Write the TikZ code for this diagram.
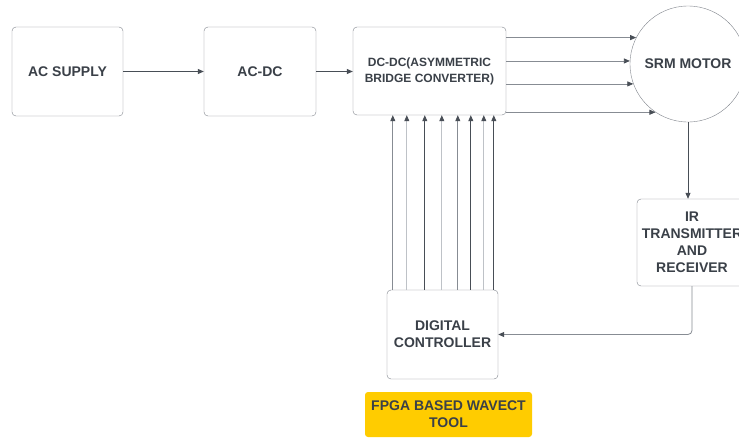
\documentclass[tikz,border=0pt]{standalone}
\usepackage{fontspec}
\setmainfont{Liberation Sans}
\usetikzlibrary{arrows.meta,positioning,calc}
\definecolor{boxgray}{RGB}{128,133,140}
\definecolor{textgray}{RGB}{58,64,72}
\definecolor{wiredark}{RGB}{72,78,86}
\definecolor{wiremid}{RGB}{135,140,147}
\definecolor{wirelight}{RGB}{190,194,199}
\definecolor{toolyellow}{RGB}{255,204,0}

\begin{document}
\begin{tikzpicture}[x=1pt,y=-1pt,
  block/.style={draw=boxgray,rounded corners=4pt,fill=white,align=center,
    inner sep=0pt,text=textgray,font=\bfseries\fontsize{14}{17}\selectfont},
  sig/.style={-{Triangle[length=6pt,width=5pt,color=wiredark]},draw=wiredark,
    line width=0.8pt}]
  \useasboundingbox (0,0) rectangle (739,437);
  \clip (0,0) rectangle (739,437);
  \fill[white] (0,0) rectangle (739,437);

  % top row
  \node[block,minimum width=111,minimum height=89] (supply) at (67.5,71.5) {AC SUPPLY};
  \node[block,minimum width=112,minimum height=89] (acdc) at (260,71.5) {AC-DC};
  \node[block,minimum width=153,minimum height=88,
    font=\bfseries\fontsize{12}{16}\selectfont] (dcdc) at (429.5,71)
    {DC-DC(ASYMMETRIC\\BRIDGE CONVERTER)};
  \node[block,circle,minimum size=116] (motor) at (688,64) {SRM MOTOR};

  % feedback path
  \node[block,minimum width=110,minimum height=87] (ir) at (692,242.5)
    {IR\\TRANSMITTER\\AND\\RECEIVER};
  \node[block,minimum width=111,minimum height=89] (ctrl) at (442.5,334.5)
    {DIGITAL\\CONTROLLER};
  \node[block,draw=none,fill=toolyellow,rounded corners=3pt,minimum width=167,
    minimum height=45] (fpga) at (448.5,414.5) {FPGA BASED WAVECT\\TOOL};

  \draw[sig] (supply) -- (acdc);
  \draw[sig] (acdc.east) -- (acdc.east -| dcdc.west);
  \foreach \a in {153,177,200,236}
    \draw[sig,draw=wiremid] (motor.\a -| dcdc.east) -- (motor.\a);
  \draw[sig] (motor.south) -- (motor.south |- ir.north);
  \draw[sig,draw=wiremid,rounded corners=4pt] (ir.south) |- (ctrl.east);

  % gate signals
  \foreach \dx/\c in {6/wiremid,20/wirelight,38/wiredark,55/wirelight,
                      71/wiremid,84/wiredark,97/wirelight,107/wiredark}
    \draw[sig,draw=\c] ($(ctrl.north west)+(\dx,0)$)
      -- ($(ctrl.north west |- dcdc.south)+(\dx,0)$);
\end{tikzpicture}
\end{document}
